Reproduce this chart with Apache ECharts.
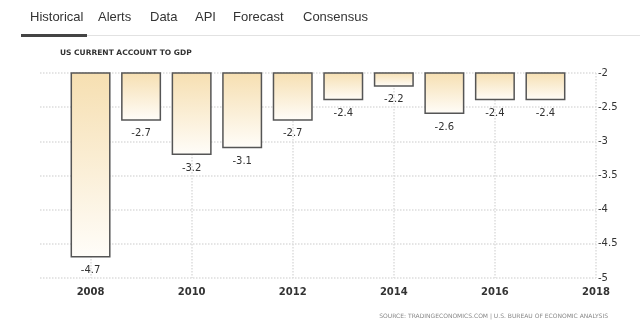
<!DOCTYPE html>
<html><head><meta charset="utf-8">
<script src="https://cdn.jsdelivr.net/npm/echarts@6/dist/echarts.min.js"></script>
<style>html,body{margin:0;padding:0;background:#fff}#c{width:640px;height:327px}</style>
</head><body><div id="c"></div>
<script>
const years = ['2007','2008','2009','2010','2011','2012','2013','2014','2015','2016','2017','2018'];
const values = [null,-4.7,-2.7,-3.2,-3.1,-2.7,-2.4,-2.2,-2.6,-2.4,-2.4,null];
const tabs = ['Historical','Alerts','Data','API','Forecast','Consensus'];
const tabX = [30,98,150,195,233,303];
const title = 'US CURRENT ACCOUNT TO GDP';
const source = 'SOURCE: TRADINGECONOMICS.COM | U.S. BUREAU OF ECONOMIC ANALYSIS';

const chart = echarts.init(document.getElementById('c'));
const font = 'DejaVu Sans';
const graphics = [
  {type:'rect', shape:{x:87,y:35,width:553,height:1}, style:{fill:'#e2e2e2'}},
  {type:'rect', shape:{x:21,y:34,width:66,height:3}, style:{fill:'#444'}}
];
tabs.forEach((t,i)=>graphics.push({type:'text', left:tabX[i], top:11,
  style:{text:t, font:'13px "Liberation Sans"', fill:'#333'}}));
graphics.push({type:'text', left:60, top:49, style:{text:title, font:'bold 7.5px "DejaVu Sans"', fill:'#333'}});
graphics.push({type:'text', right:32, top:313, style:{text:source, font:'6px "DejaVu Sans"', fill:'#888'}});

chart.setOption({
  animation:false,
  graphic: graphics,
  grid:{left:40, right:44, top:73, bottom:49},
  xAxis:{type:'category', data:years, boundaryGap:false,
    axisLine:{show:false}, axisTick:{show:false},
    axisLabel:{interval:(i)=>i%2===1, fontFamily:font, fontWeight:'bold', fontSize:10, color:'#333', margin:9},
    splitLine:{show:true, interval:(i)=>i%2===1, lineStyle:{color:'#ddd', type:'dotted', width:1.5}}
  },
  yAxis:{type:'value', position:'right', min:-5, max:-2, interval:0.5,
    axisLine:{show:false}, axisTick:{show:false},
    axisLabel:{fontFamily:font, fontSize:10, color:'#333', margin:2},
    splitLine:{lineStyle:{color:'#ddd', type:'dotted', width:1.5}}
  },
  series:[{type:'bar', data:values, barWidth:40, clip:true,
    itemStyle:{borderColor:'#555', borderWidth:1.5,
      color:new echarts.graphic.LinearGradient(0,0,0,1,[{offset:0,color:'#f6dfb1'},{offset:1,color:'#fffdf9'}])},
    label:{show:true, position:'bottom', distance:8, fontFamily:font, fontSize:10, color:'#333'}
  }]
});
</script></body></html>
